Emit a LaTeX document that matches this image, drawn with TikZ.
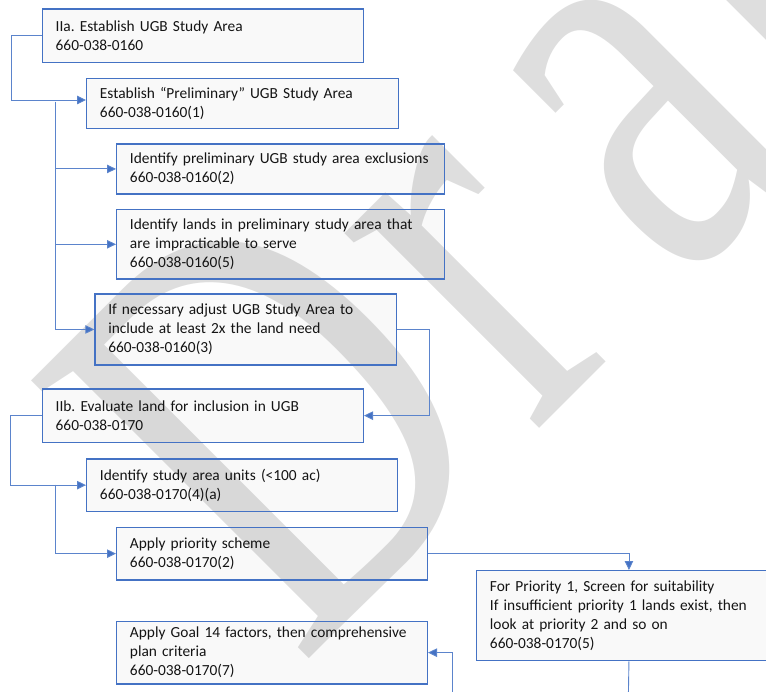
\documentclass[tikz,border=0pt]{standalone}
\usepackage{xcolor}
\usepackage{fontspec}
\setmainfont{Carlito}
\newfontfamily\wmfont{Liberation Serif}
\frenchspacing
\usepackage{tikz}
\usetikzlibrary{
    calc,
    arrows.meta,
    positioning % not really needed, boxes sit at coordinates
}
\definecolor{boxblue}{HTML}{4472C4}
\definecolor{linkblue}{HTML}{5B84CC}
\tikzset{
    flowbox/.style={draw=boxblue, line width=1.3pt, fill=black, fill opacity=0.025,
        text opacity=1, text=black!92, anchor=north west, align=left,
        inner xsep=13.3pt, inner ysep=0pt,
        font=\fontsize{15.4}{19}\selectfont},
    link/.style={draw=linkblue, line width=0.9pt,
        -{Triangle[length=9pt,width=8.5pt,fill=boxblue]}},
    wire/.style={draw=linkblue, line width=0.9pt},
    watermark/.style={text=black!13, font=\wmfont\fontsize{600}{600}\selectfont,
        inner sep=0pt}
}

\begin{document}
\begin{tikzpicture}[x=1pt, y=-1pt]
        \useasboundingbox (0,0) rectangle (766,692);
        \clip (0,0) rectangle (766,692);

        % the "Draft" stamp behind everything
        \begin{scope}[shift={(300,668)}, rotate=45, xscale=0.72]
            \node[watermark, transform shape, anchor=base west] (wm) at (0,0) {D\kern25pt r\kern85pt aft};
        \end{scope}

        % part IIa
        \node[flowbox, text width=294.4pt, minimum height=53.4pt] (iia)     at (41.7,8.3)  {IIa. Establish UGB Study Area\\660-038-0160};
        \node[flowbox, text width=285.4pt, minimum height=50.3pt] (prelim)  at (86,77.7)   {Establish “Preliminary” UGB Study Area\\660-038-0160(1)};
        \node[flowbox, text width=301.4pt, minimum height=50pt]   (excl)    at (116,143.3) {Identify preliminary UGB study area exclusions\\660-038-0160(2)};
        \node[flowbox, text width=301.4pt, minimum height=69.3pt] (impract) at (116,209)   {Identify lands in preliminary study area that\\are impracticable to serve\\660-038-0160(5)};
        \node[flowbox, text width=275.1pt, minimum height=71pt]   (adjust)  at (94.3,293.3) {If necessary adjust UGB Study Area to\\include at least 2x the land need\\660-038-0160(3)};

        % part IIb
        \node[flowbox, text width=294.4pt, minimum height=53.4pt] (iib)      at (41.7,388.3) {IIb. Evaluate land for inclusion in UGB\\660-038-0170};
        \node[flowbox, text width=284.1pt, minimum height=52.4pt] (units)    at (86,458.3)   {Identify study area units (<100 ac)\\660-038-0170(4)(a)};
        \node[flowbox, text width=284.1pt, minimum height=52.6pt] (priority) at (116,526.7)  {Apply priority scheme\\660-038-0170(2)};
        \node[flowbox, text width=278pt,   minimum height=90pt]   (screen)   at (476,570)    {For Priority 1, Screen for suitability\\If insufficient priority 1 lands exist, then\\look at priority 2 and so on\\660-038-0170(5)};
        \node[flowbox, text width=284.1pt, minimum height=62.6pt] (goal)     at (116,620.7)  {Apply Goal 14 factors, then comprehensive\\plan criteria\\660-038-0170(7)};

        \coordinate (trunkA) at (55,102);
        \coordinate (trunkB) at (55,484.5);
        \coordinate (screenOut) at (628.3,700);
        \coordinate (goalIn) at (452.3,700);

        \draw[link] (iia.west) -- ++(-30,0) |- ([yshift=3.5pt]prelim.west);
        \draw[link] (trunkA) |- (excl.west);
        \draw[link] (trunkA) |- (impract.west);
        \draw[link] (trunkA) |- (adjust.west);
        \draw[link] (adjust.east) -- ++(31.7,0) |- (iib.east);

        \draw[link] (iib.west) -- ++(-31.7,0) |- (units.west);
        \draw[link] (trunkB) |- (priority.west);
        \draw[link] (priority.east) -| (screen.north);
        \draw[wire] (screen.south) -- (screenOut);
        \draw[link] (goalIn) |- (goal.east);
\end{tikzpicture}
\end{document}
